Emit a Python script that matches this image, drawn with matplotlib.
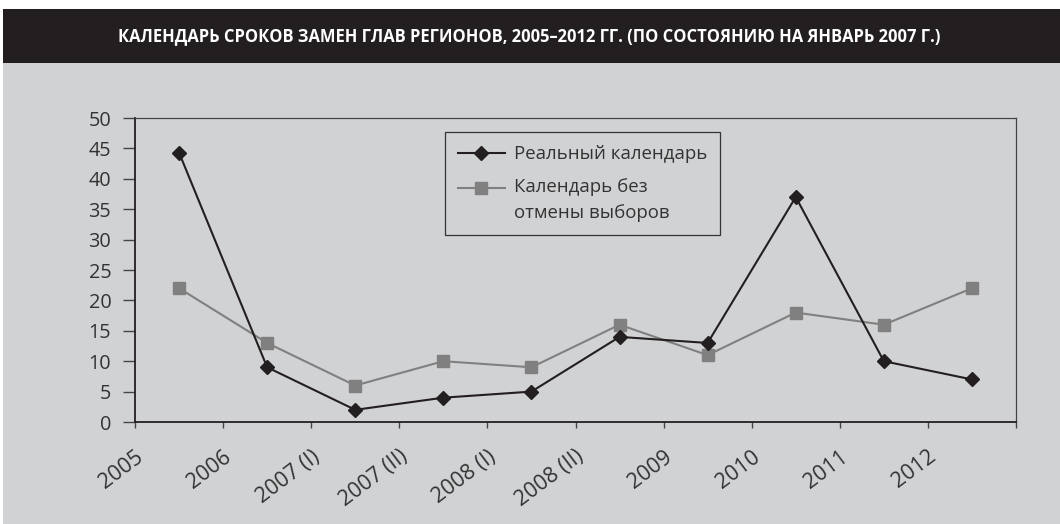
import matplotlib
matplotlib.use("Agg")
import matplotlib.pyplot as plt
from matplotlib.patches import Rectangle
from matplotlib import font_manager as fm

categories = ["2005", "2006", "2007 (I)", "2007 (II)", "2008 (I)", "2008 (II)",
              "2009", "2010", "2011", "2012"]
real_calendar = [44.3, 9, 2, 4, 5, 14, 13, 37, 10, 7]
no_cancel_calendar = [22, 13, 6, 10, 9, 16, 11, 18, 16, 22]
series_labels = ["Реальный календарь", "Календарь без\nотмены выборов"]
title_text = "КАЛЕНДАРЬ СРОКОВ ЗАМЕН ГЛАВ РЕГИОНОВ, 2005–2012 ГГ. (ПО СОСТОЯНИЮ НА ЯНВАРЬ 2007 Г.)"
y_ticks = [0, 5, 10, 15, 20, 25, 30, 35, 40, 45, 50]

available = {f.name for f in fm.fontManager.ttflist}
body_font = "Open Sans" if "Open Sans" in available else "DejaVu Sans"
title_font = body_font

BG = "#d1d2d4"
DARK = "#231f20"
GRAY = "#808080"
TXT = "#333333"

W, H = 1060, 524
fig = plt.figure(figsize=(W / 100, H / 100), dpi=100, facecolor="white")

# background panel and title bar
fig.patches.append(Rectangle((3 / W, 0), 1 - 3 / W, 1 - 63 / H, transform=fig.transFigure,
                             facecolor=BG, edgecolor="none", zorder=-2))
fig.patches.append(Rectangle((3 / W, 1 - 63 / H), 1 - 3 / W, 54 / H, transform=fig.transFigure,
                             facecolor=DARK, edgecolor="none", zorder=-2))
fig.text(529 / W, 1 - 36 / H, title_text, color="white", fontsize=11.9, fontweight="bold",
         family=[title_font, "DejaVu Sans"], ha="center", va="center")

ax = fig.add_axes([135 / W, 1 - 422 / H, (1016 - 135) / W, (422 - 118) / H])
ax.set_facecolor(BG)

x = [i + 0.5 for i in range(len(categories))]
ax.plot(x, real_calendar, color=DARK, lw=1.5, marker="D", ms=7, mfc=DARK, mec=DARK,
        label=series_labels[0], zorder=4)
ax.plot(x, no_cancel_calendar, color=GRAY, lw=1.5, marker="s", ms=8, mfc=GRAY, mec=GRAY,
        label=series_labels[1], zorder=3)

ax.set_xlim(0, len(categories))
ax.set_ylim(0, 50)
ax.set_yticks(y_ticks)
ax.set_yticklabels([str(v) for v in y_ticks], fontsize=14.3, color=TXT, family=body_font)
ax.set_xticks(range(len(categories) + 1))
ax.set_xticklabels(categories + [""], fontsize=15.5, color=TXT, family=body_font,
                   rotation=37, ha="right", va="top", rotation_mode="anchor")
ax.tick_params(axis="y", direction="out", length=8.6, width=1, color="#444444", pad=8.5)
ax.tick_params(axis="x", direction="out", length=4.5, width=1, color="#444444", pad=13)

for side in ["left", "bottom"]:
    ax.spines[side].set_color(DARK)
    ax.spines[side].set_linewidth(1.3)
for side in ["top", "right"]:
    ax.spines[side].set_color("#444444")
    ax.spines[side].set_linewidth(0.9)

leg = ax.legend(loc="upper left", bbox_to_anchor=(445 / W, 1 - 132 / H),
                bbox_transform=fig.transFigure, frameon=True, fancybox=False,
                facecolor=BG, edgecolor="#333333", framealpha=1,
                prop={"family": body_font, "size": 13.4}, labelcolor=TXT,
                handlelength=2.5, handletextpad=0.5, labelspacing=0.8,
                borderpad=0.7, borderaxespad=0)
leg.get_frame().set_linewidth(0.9)
for t in leg.get_texts():
    t.set_linespacing(1.6)
# align the second handle with the first line of its two-line label
h2 = leg.legend_handles[1]
yd = h2.get_ydata()
h2.set_ydata([v + 9.4 for v in yd])

fig.savefig("out.png", dpi=100, facecolor="white")
